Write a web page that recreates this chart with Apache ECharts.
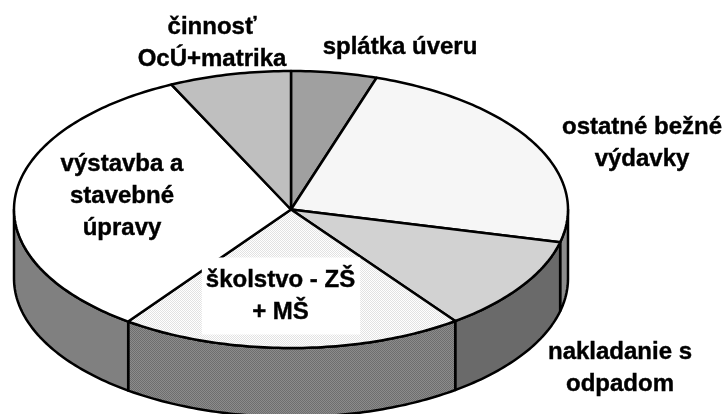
<!DOCTYPE html>
<html lang="en">
<head>
    <meta charset="UTF-8" />
    <title>výdavky</title>
    <style>
        html, body { margin: 0; padding: 0; background: #fff; }
    </style>
</head>

<body>
<div id="main" style="width: 727px; height: 414px;"></div>
<script src="https://cdn.jsdelivr.net/npm/echarts@6/dist/echarts.min.js"></script>
<script type="text/javascript">
    // data, clockwise from 12 o'clock
    var categories = ['splátka úveru', 'ostatné bežné\nvýdavky', 'nakladanie s\nodpadom', 'školstvo - ZŠ\n+ MŠ', 'výstavba a\nstavebné\núpravy', 'činnosť\nOcÚ+matrika'];
    var shares = [5.0, 23.8, 11.1, 20.1, 32.9, 7.1];

    // styles
    var topColors = ['#a0a0a0', '#f6f6f6', '#d2d2d2', 'dots', '#ffffff', '#bfbfbf'];
    var wallColors = ['#808080', '#8c8c8c', '#6a6a6a', 'hatch', '#808080', '#808080'];
    var labelCenters = [[400, 47], [642, 143], [620, 368], [281, 296], [122, 196], [212, 43]];
    var wallDepth = 69;

    function makePattern(a, b) {
        var c = document.createElement('canvas');
        c.width = 2;
        c.height = 2;
        var ctx = c.getContext('2d');
        ctx.fillStyle = a;
        ctx.fillRect(0, 0, 2, 2);
        ctx.fillStyle = b;
        ctx.fillRect(0, 0, 1, 1);
        ctx.fillRect(1, 1, 1, 1);
        return { image: c, repeat: 'repeat' };
    }
    var patterns = {
        dots: makePattern('#ffffff', '#e2e2e2'),
        hatch: makePattern('#8c8c8c', '#6e6e6e')
    };
    function fillOf(name) {
        return patterns[name] || name;
    }

    var total = 0;
    for (var i = 0; i < shares.length; i++) total += shares[i];

    var sliceData = [];
    var sum = 0;
    for (var i = 0; i < shares.length; i++) {
        sliceData.push([sum / total * 360, (sum + shares[i]) / total * 360]);
        sum += shares[i];
    }

    function renderSlice(params, api) {
        var from = api.value(0);
        var to = api.value(1);
        var children = [];

        function edge(deg) {
            var r = deg * Math.PI / 180;
            return api.coord([Math.sin(r), Math.cos(r)]);
        }

        // side wall, only the front half of the disc shows
        var wFrom = Math.max(from, 90);
        var wTo = Math.min(to, 270);
        if (wTo > wFrom) {
            var upper = [];
            var lower = [];
            for (var d = wFrom; d < wTo; d += 1) {
                upper.push(edge(d));
            }
            upper.push(edge(wTo));
            for (var j = upper.length - 1; j >= 0; j--) {
                lower.push([upper[j][0], upper[j][1] + wallDepth]);
            }
            children.push({
                type: 'polygon',
                shape: { points: upper.concat(lower) },
                style: { fill: fillOf(wallColors[params.dataIndex]), stroke: '#000', lineWidth: 2.5, lineJoin: 'round' }
            });
        }

        // top face
        var pts = [api.coord([0, 0])];
        for (var d = from; d < to; d += 1) {
            pts.push(edge(d));
        }
        pts.push(edge(to));
        children.push({
            type: 'polygon',
            shape: { points: pts },
            style: { fill: fillOf(topColors[params.dataIndex]), stroke: '#000', lineWidth: 2.5, lineJoin: 'round' }
        });

        return { type: 'group', children: children };
    }

    var labelGraphics = [];
    for (var i = 0; i < categories.length; i++) {
        var isSchool = i === 3;
        labelGraphics.push({
            type: 'text',
            x: labelCenters[i][0],
            y: labelCenters[i][1],
            z: 10,
            style: {
                text: categories[i],
                fill: '#000',
                stroke: '#000',
                lineWidth: 0.4,
                font: 'bold 24px "Liberation Sans", Arial, sans-serif',
                lineHeight: 32,
                align: 'center',
                verticalAlign: 'middle',
                backgroundColor: isSchool ? '#ffffff' : 'transparent',
                padding: isSchool ? [7, 5, 6, 4] : 0
            }
        });
    }

    var myChart = echarts.init(document.getElementById('main'));

    var option = {
        animation: false,
        backgroundColor: '#ffffff',
        tooltip: { show: false },
        grid: { left: 14, right: 159, top: 71, bottom: 66 },
        xAxis: { type: 'value', min: -1, max: 1, show: false },
        yAxis: { type: 'value', min: -1, max: 1, show: false },
        graphic: labelGraphics,
        series: [{
            type: 'custom',
            coordinateSystem: 'cartesian2d',
            renderItem: renderSlice,
            clip: false,
            silent: true,
            encode: { x: 0, y: 1 },
            data: sliceData
        }]
    };

    myChart.setOption(option);
</script>
</body>

</html>
